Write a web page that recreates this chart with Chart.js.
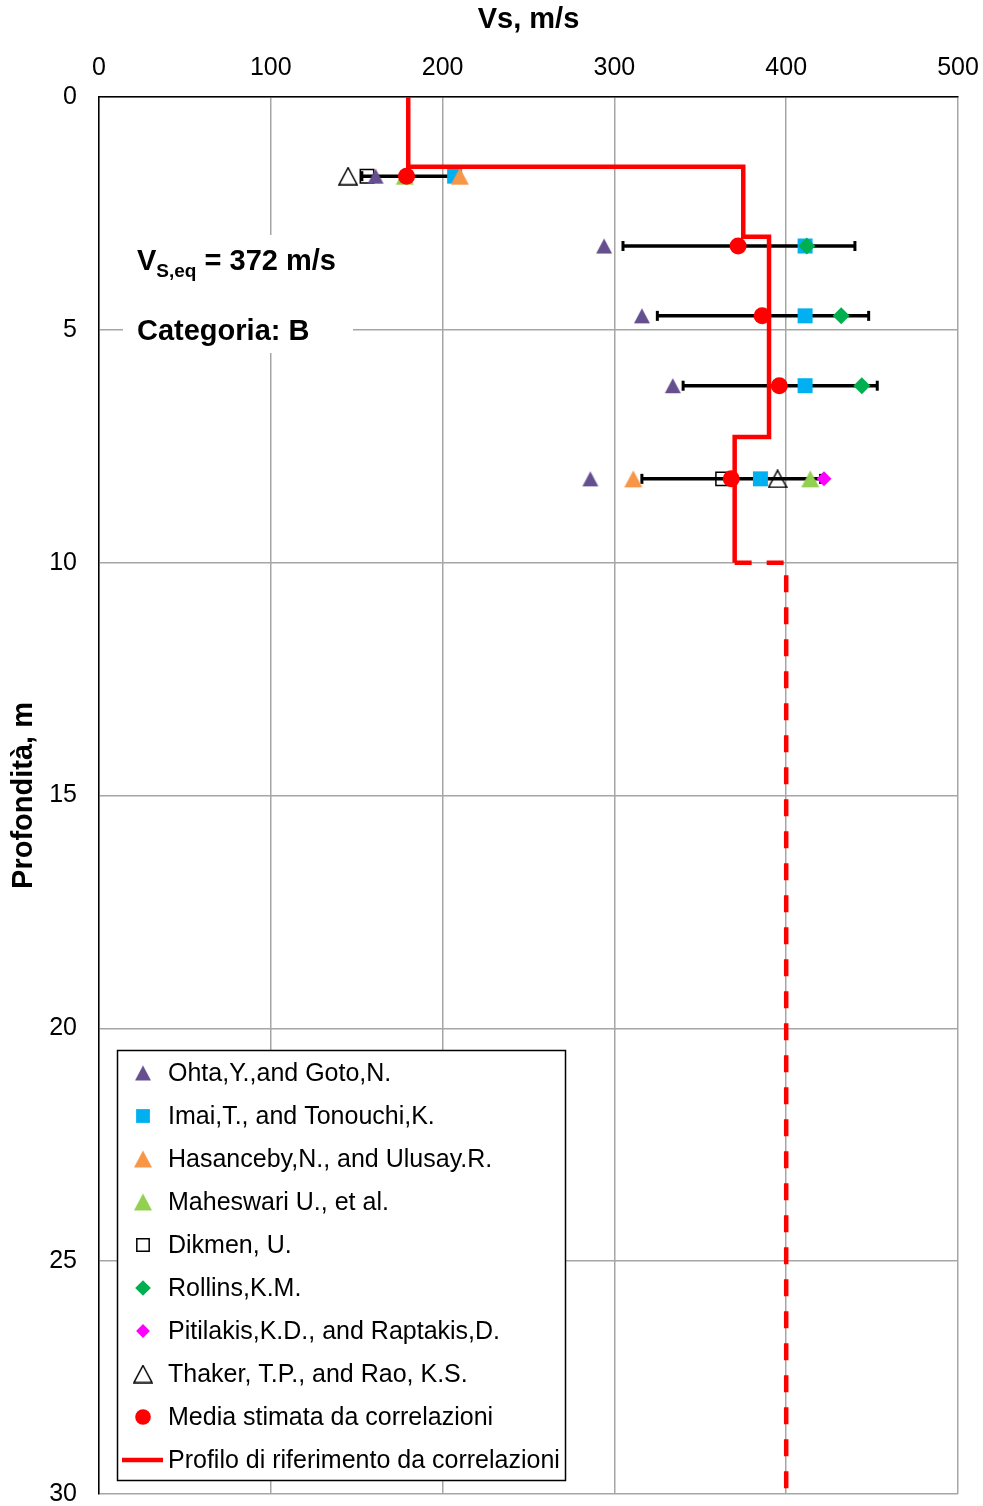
<!DOCTYPE html>
<html>
<head>
<meta charset="utf-8">
<script src="https://cdn.jsdelivr.net/npm/chart.js@4.4.1/dist/chart.umd.min.js"></script>
<style>
  html, body { margin: 0; padding: 0; background: #fff; }
</style>
</head>
<body>
<canvas id="vsChart" width="983" height="1506"></canvas>
<script>
// profondità dei punti di misura (m)
const depths = [1.7, 3.2, 4.7, 6.2, 8.2];

// Vs stimata (m/s) per ogni correlazione, null = nessun valore
const ohta      = [161, 294, 316, 334, 286];
const imai      = [207, 411, 411, 411, 385];
const hasanceby = [210, null, null, null, 311];
const maheswari = [178, null, null, null, 414];
const dikmen    = [156, null, null, null, 363];
const rollins   = [null, 412, 432, 444, null];
const pitilakis = [null, null, null, null, 422];
const thaker    = [145, null, null, null, 395];
const media     = [179, 372, 386, 396, 368];
const errLow    = [153, 305, 325, 340, 316];
const errHigh   = [205, 440, 448, 453, 420];

// profilo di riferimento
const profileVs    = [180, 180, 375, 375, 390, 390, 370, 370];
const profileDepth = [0, 1.5, 1.5, 3.0, 3.0, 7.3, 7.3, 10];
const refVs        = [370, 400, 400];
const refDepth     = [10, 10, 30];

const xTicks = [0, 100, 200, 300, 400, 500];
const yTicks = [0, 5, 10, 15, 20, 25, 30];

const legendOrder = [
    'Ohta,Y.,and Goto,N.',
    'Imai,T., and Tonouchi,K.',
    'Hasanceby,N., and Ulusay.R.',
    'Maheswari U., et al.',
    'Dikmen, U.',
    'Rollins,K.M.',
    'Pitilakis,K.D., and Raptakis,D.',
    'Thaker, T.P., and Rao, K.S.',
    'Media stimata da correlazioni',
    'Profilo di riferimento da correlazioni'
];

const FONT = '"Liberation Sans", Arial, sans-serif';
Chart.defaults.font.family = FONT;
Chart.defaults.color = '#000';

// triangoli disegnati su canvas, così restano centrati sul punto
function makeTriangle(w, h, fill, stroke) {
    const c = document.createElement('canvas');
    c.width = w + 2;
    c.height = h + 2;
    const g = c.getContext('2d');
    g.beginPath();
    g.moveTo((w + 2) / 2, 1);
    g.lineTo(w + 1, h + 1);
    g.lineTo(1, h + 1);
    g.closePath();
    if (fill) { g.fillStyle = fill; g.fill(); }
    if (stroke) { g.lineWidth = 1.5; g.strokeStyle = stroke; g.stroke(); }
    return c;
}

function pts(vals) {
    return depths.map((d, i) => vals[i] == null ? null : { x: vals[i], y: d }).filter(p => p);
}

function markerSet(label, vals, style, radius, fill, stroke, bw, order) {
    return {
        label: label,
        data: pts(vals),
        showLine: false,
        pointStyle: style,
        pointRadius: radius,
        pointHoverRadius: radius,
        pointBackgroundColor: fill,
        pointBorderColor: stroke,
        pointBorderWidth: bw,
        order: order
    };
}

const datasets = [];

// barre di errore
depths.forEach((d, i) => {
    datasets.push({
        label: 'err' + i,
        data: [{ x: errLow[i], y: d }, { x: errHigh[i], y: d }],
        showLine: true,
        borderColor: '#000',
        borderWidth: 3.5,
        pointStyle: 'line',
        rotation: 90,
        pointRadius: 5,
        pointBorderColor: '#000',
        pointBorderWidth: 3,
        order: 20
    });
});

datasets.push(markerSet('Dikmen, U.', dikmen, 'rect', 9.5, 'transparent', '#000', 1.5, 10));
datasets.push(markerSet('Imai,T., and Tonouchi,K.', imai, 'rect', 10.6, '#00B0F0', '#00B0F0', 0, 9));
datasets.push(markerSet('Thaker, T.P., and Rao, K.S.', thaker, makeTriangle(18, 17, null, '#000'), 9, 'transparent', '#000', 0, 8));
datasets.push(markerSet('Ohta,Y.,and Goto,N.', ohta, makeTriangle(16, 15, '#654F8F', null), 8, '#654F8F', '#654F8F', 0, 7));
datasets.push(markerSet('Hasanceby,N., and Ulusay.R.', hasanceby, makeTriangle(18, 17, '#F79646', null), 9, '#F79646', '#F79646', 0, 6));
datasets.push(markerSet('Maheswari U., et al.', maheswari, makeTriangle(18, 17, '#92D050', null), 9, '#92D050', '#92D050', 0, 5));
datasets.push(markerSet('Rollins,K.M.', rollins, 'rectRot', 8.5, '#00B050', '#00B050', 0, 4));
datasets.push(markerSet('Pitilakis,K.D., and Raptakis,D.', pitilakis, 'rectRot', 7.5, '#FF00FF', '#FF00FF', 0, 3));

datasets.push({
    label: 'Profilo di riferimento da correlazioni',
    data: profileVs.map((v, i) => ({ x: v, y: profileDepth[i] })),
    showLine: true,
    borderColor: '#FF0000',
    borderWidth: 4.5,
    borderJoinStyle: 'miter',
    pointRadius: 0,
    order: 2
});
datasets.push({
    label: 'rif',
    data: refVs.map((v, i) => ({ x: v, y: refDepth[i] })),
    showLine: true,
    borderColor: '#FF0000',
    borderWidth: 4.5,
    borderDash: [17, 15],
    pointRadius: 0,
    order: 2
});
datasets.push(markerSet('Media stimata da correlazioni', media, 'circle', 8.5, '#FF0000', '#FF0000', 0, 1));

// box bianco con Vs,eq e categoria
const notePlugin = {
    id: 'note',
    beforeDatasetsDraw(chart) {
        const ctx = chart.ctx;
        ctx.save();
        ctx.fillStyle = '#fff';
        ctx.fillRect(123, 235, 230, 118);
        ctx.fillStyle = '#000';
        ctx.textBaseline = 'alphabetic';
        ctx.textAlign = 'left';
        ctx.font = 'bold 29px ' + FONT;
        ctx.fillText('V', 137, 270);
        let x = 137 + ctx.measureText('V').width;
        ctx.font = 'bold 19px ' + FONT;
        ctx.fillText('S,eq', x, 277);
        x += ctx.measureText('S,eq').width;
        ctx.font = 'bold 29px ' + FONT;
        ctx.fillText(' = 372 m/s', x, 270);
        ctx.fillText('Categoria: B', 137, 340);
        ctx.restore();
    }
};

// legenda in riquadro dentro l'area del grafico
const legendPlugin = {
    id: 'boxLegend',
    afterDatasetsDraw(chart) {
        const ctx = chart.ctx;
        ctx.save();
        ctx.fillStyle = '#fff';
        ctx.fillRect(117, 1050, 448, 430);
        ctx.strokeStyle = '#000';
        ctx.lineWidth = 1.5;
        ctx.strokeRect(117.5, 1050.5, 448, 430);
        ctx.font = '25px ' + FONT;
        ctx.textBaseline = 'middle';
        ctx.textAlign = 'left';
        legendOrder.forEach((label, i) => {
            const ds = chart.data.datasets.find(d => d.label === label);
            const y = 1073 + i * 43;
            if (ds.showLine) {
                ctx.strokeStyle = ds.borderColor;
                ctx.lineWidth = ds.borderWidth;
                ctx.setLineDash([]);
                ctx.beginPath();
                ctx.moveTo(122, y);
                ctx.lineTo(163, y);
                ctx.stroke();
            } else {
                ctx.fillStyle = ds.pointBackgroundColor;
                ctx.strokeStyle = ds.pointBorderColor;
                ctx.lineWidth = ds.pointBorderWidth;
                Chart.helpers.drawPoint(ctx, {
                    pointStyle: ds.pointStyle,
                    radius: ds.pointRadius * 0.92,
                    rotation: 0,
                    borderWidth: ds.pointBorderWidth
                }, 143, y);
            }
            ctx.fillStyle = '#000';
            ctx.fillText(label, 168, y + 1);
        });
        ctx.restore();
    }
};

new Chart(document.getElementById('vsChart'), {
    type: 'scatter',
    data: { datasets: datasets },
    options: {
        responsive: false,
        animation: false,
        devicePixelRatio: 1,
        layout: { padding: { left: 0, right: 25, top: 0, bottom: 12 } },
        plugins: {
            legend: { display: false },
            tooltip: { enabled: false }
        },
        scales: {
            x: {
                type: 'linear',
                position: 'top',
                min: 0,
                max: 500,
                afterBuildTicks: s => { s.ticks = xTicks.map(v => ({ value: v })); },
                afterFit: s => { s.height = 97; s.paddingLeft = 0; s.paddingRight = 0; },
                ticks: { font: { size: 25 }, padding: 14, color: '#000', maxRotation: 0 },
                grid: { color: '#A6A6A6', lineWidth: 1.5, drawTicks: false },
                border: { color: '#000', width: 1.5 },
                title: {
                    display: true,
                    text: 'Vs, m/s',
                    font: { size: 29, weight: 'bold' },
                    padding: { top: 3, bottom: 0 }
                }
            },
            y: {
                type: 'linear',
                reverse: true,
                min: 0,
                max: 30,
                afterBuildTicks: s => { s.ticks = yTicks.map(v => ({ value: v })); },
                afterFit: s => { s.width = 99; s.paddingTop = 0; s.paddingBottom = 0; },
                ticks: { font: { size: 25, lineHeight: 1 }, padding: 22, color: '#000' },
                grid: { color: '#A6A6A6', lineWidth: 1.5, drawTicks: false },
                border: { color: '#000', width: 1.5 },
                title: {
                    display: true,
                    text: 'Profondità, m',
                    font: { size: 29, weight: 'bold' },
                    padding: { top: 7, bottom: 0 }
                }
            }
        }
    },
    plugins: [notePlugin, legendPlugin]
});
</script>
</body>
</html>
